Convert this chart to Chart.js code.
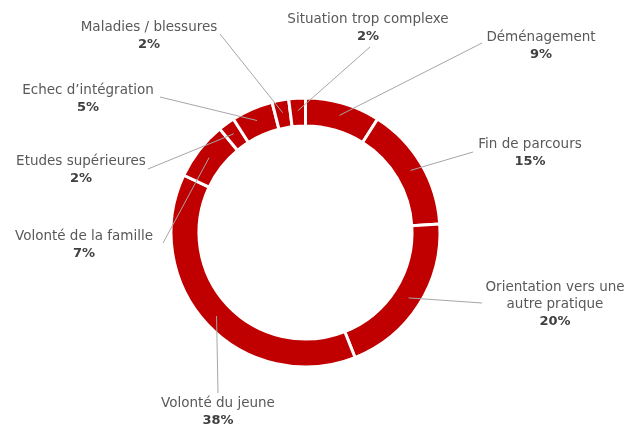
<!DOCTYPE html>
<html>
<head>
<meta charset="utf-8">
<script src="https://cdn.jsdelivr.net/npm/chart.js@4"></script>
<style>
  html, body { margin: 0; padding: 0; background: #fff; }
  #wrap { width: 627px; height: 426px; position: relative; }
</style>
</head>
<body>
<div id="wrap"><canvas id="donut"></canvas></div>
<script>
// Raisons de départ (en %), dans le sens horaire depuis le haut
const categories = [
    'Déménagement',
    'Fin de parcours',
    'Orientation vers une autre pratique',
    'Volonté du jeune',
    'Volonté de la famille',
    'Etudes supérieures',
    "Echec d'intégration",
    'Maladies / blessures',
    'Situation trop complexe'
];
const shares = [9, 15, 20, 38, 7, 2, 5, 2, 2];

// Texte affiché pour chaque étiquette (retours à la ligne)
const labelLines = [
    ['Déménagement'],
    ['Fin de parcours'],
    ['Orientation vers une', 'autre pratique'],
    ['Volonté du jeune'],
    ['Volonté de la famille'],
    ['Etudes supérieures'],
    ['Echec d\u2019intégration'],
    ['Maladies / blessures'],
    ['Situation trop complexe']
];

// Mise en page des étiquettes : centre du texte (x, y de la 1re ligne) et départ du trait
const labelLayout = [
    { x: 541, y: 37,  lx: 482, ly: 43 },
    { x: 530, y: 144, lx: 473, ly: 152 },
    { x: 555, y: 287, lx: 482, ly: 303 },
    { x: 218, y: 403, lx: 218, ly: 393 },
    { x: 84,  y: 236, lx: 163, ly: 243 },
    { x: 81,  y: 161, lx: 148, ly: 169 },
    { x: 88,  y: 90,  lx: 160, ly: 97 },
    { x: 149, y: 27,  lx: 220, ly: 34 },
    { x: 368, y: 19,  lx: 370, ly: 47 }
];

const RED = '#C00000';
const FONT = '"DejaVu Sans", sans-serif';

const outsideLabels = {
    id: 'outsideLabels',
    afterDatasetsDraw(chart) {
        const ctx = chart.ctx;
        const arcs = chart.getDatasetMeta(0).data;
        ctx.save();
        arcs.forEach((arc, i) => {
            const p = arc.getProps(['x', 'y', 'startAngle', 'endAngle', 'innerRadius', 'outerRadius'], true);
            const mid = (p.startAngle + p.endAngle) / 2;
            const r = (p.innerRadius + p.outerRadius) / 2 + 1.5;
            const px = p.x + Math.cos(mid) * r;
            const py = p.y + Math.sin(mid) * r;
            const lay = labelLayout[i];

            // trait de rappel
            ctx.strokeStyle = '#A6A6A6';
            ctx.lineWidth = 1;
            ctx.beginPath();
            ctx.moveTo(lay.lx, lay.ly);
            ctx.lineTo(px, py);
            ctx.stroke();

            // texte
            ctx.textAlign = 'center';
            ctx.textBaseline = 'middle';
            ctx.fillStyle = '#595959';
            ctx.font = '13.5px ' + FONT;
            const lines = labelLines[i];
            lines.forEach((t, k) => ctx.fillText(t, lay.x, lay.y + k * 17));
            ctx.fillStyle = '#404040';
            ctx.font = 'bold 13px ' + FONT;
            ctx.fillText(shares[i] + '%', lay.x, lay.y + lines.length * 17 + 0.5);
        });
        ctx.restore();
    }
};

new Chart(document.getElementById('donut'), {
    type: 'doughnut',
    data: {
        labels: categories,
        datasets: [{
            data: shares,
            backgroundColor: RED,
            borderColor: '#ffffff',
            borderWidth: 3,
            hoverOffset: 0
        }]
    },
    options: {
        responsive: true,
        maintainAspectRatio: false,
        animation: false,
        cutout: '79.2%',
        layout: { padding: { top: 96.5, bottom: 57.5, left: 100, right: 116 } },
        plugins: {
            legend: { display: false },
            tooltip: { enabled: false }
        }
    },
    plugins: [outsideLabels]
});
</script>
</body>
</html>
